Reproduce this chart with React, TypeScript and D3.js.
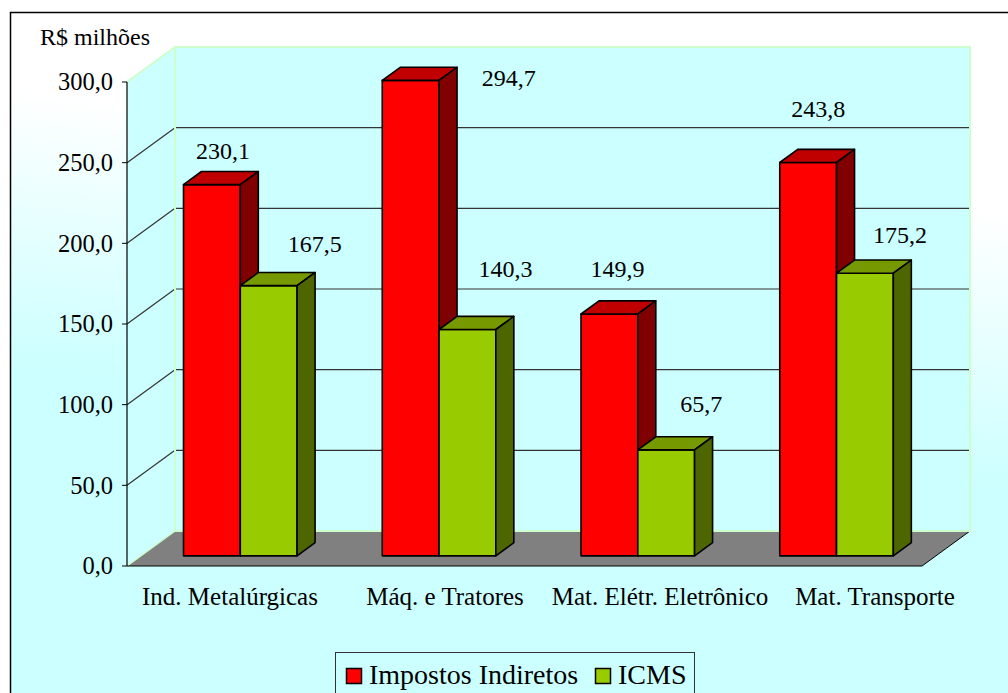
import { formatLocale, scaleBand, scaleLinear, scaleOrdinal, scalePoint } from "d3";

const categories = ["Ind. Metalúrgicas", "Máq. e Tratores", "Mat. Elétr. Eletrônico", "Mat. Transporte"];
const seriesNames = ["Impostos Indiretos", "ICMS"];
const impostosIndiretos = [230.1, 294.7, 149.9, 243.8];
const icms = [167.5, 140.3, 65.7, 175.2];
const yTicks = [0, 50, 100, 150, 200, 250, 300];
const yTitle = "R$ milhões";

// hand placed value labels in the original, offsets from the bar's top face
const labelNudge = [
  [[2, -19], [89, 12], [-1, -30], [1, -39]],
  [[37, -27], [29, -46], [26, -31], [26, -24]],
];

const WIDTH = 1008;
const HEIGHT = 693;
const FRONT_LEFT = 127;
const FRONT_RIGHT = 922;
const BASE_Y = 566;
const PLOT_H = 484;
const DEPTH_X = 48;
const DEPTH_Y = 35;
const BAR_F0 = 0.29;
const BAR_F1 = 0.665;
const FONT = '"Liberation Serif", "DejaVu Serif", "Times New Roman", Times, serif';

const faceColors = {
  "Impostos Indiretos": { front: "#ff0000", top: "#c00000", side: "#800000" },
  ICMS: { front: "#99cc00", top: "#779900", side: "#4d6600" },
};

const ptBR = formatLocale({ decimal: ",", thousands: ".", grouping: [3], currency: ["R$", ""] });
const fmt = ptBR.format(".1f");

function proj(x: number, h: number, f: number): [number, number] {
  return [x + f * DEPTH_X, BASE_Y - h - f * DEPTH_Y];
}

function pts(list: [number, number][]) {
  return list.map((p) => p.join(",")).join(" ");
}

export default function App() {
  const xBand = scaleBand<string>().domain(categories).range([FRONT_LEFT, FRONT_RIGHT]);
  const xSub = scaleBand<string>().domain(seriesNames).range([0, xBand.step()]).paddingOuter(0.75);
  const yHeight = scaleLinear().domain([0, 300]).range([0, PLOT_H]);
  const labelX = scalePoint<string>().domain(categories).range([230, 875]);
  const color = scaleOrdinal<string, string>().domain(seriesNames).range(["#ff0000", "#99cc00"]);
  const values = [impostosIndiretos, icms];
  const w = xSub.bandwidth();

  const backLeft = FRONT_LEFT + DEPTH_X;
  const backRight = FRONT_RIGHT + DEPTH_X;
  const backBase = BASE_Y - DEPTH_Y;
  const backTop = backBase - PLOT_H;

  const bars: JSX.Element[] = [];
  categories.forEach((cat, ci) => {
    seriesNames.forEach((s, si) => {
      const v = values[si][ci];
      const h = yHeight(v);
      const x0 = (xBand(cat) ?? 0) + (xSub(s) ?? 0);
      const x1 = x0 + w;
      const c = faceColors[s as keyof typeof faceColors];
      bars.push(
        <g key={`${cat}-${s}`} stroke="#000" strokeWidth={1.6} strokeLinejoin="round">
          <polygon fill={c.front} points={pts([proj(x0, 0, BAR_F0), proj(x1, 0, BAR_F0), proj(x1, h, BAR_F0), proj(x0, h, BAR_F0)])} />
          <polygon fill={c.top} points={pts([proj(x0, h, BAR_F0), proj(x1, h, BAR_F0), proj(x1, h, BAR_F1), proj(x0, h, BAR_F1)])} />
          <polygon fill={c.side} points={pts([proj(x1, 0, BAR_F0), proj(x1, 0, BAR_F1), proj(x1, h, BAR_F1), proj(x1, h, BAR_F0)])} />
        </g>
      );
    });
  });

  const labels: JSX.Element[] = [];
  categories.forEach((cat, ci) => {
    seriesNames.forEach((s, si) => {
      const v = values[si][ci];
      const x0 = (xBand(cat) ?? 0) + (xSub(s) ?? 0);
      const [ax, ay] = proj(x0 + w / 2, yHeight(v), (BAR_F0 + BAR_F1) / 2);
      const [dx, dy] = labelNudge[si][ci];
      labels.push(
        <text key={`lbl-${cat}-${s}`} x={ax + dx} y={ay + dy} textAnchor="middle" fontSize={24}>
          {fmt(v)}
        </text>
      );
    });
  });

  return (
    <svg
      width={WIDTH}
      height={HEIGHT}
      style={{ position: "absolute", left: 0, top: 0, fontFamily: FONT }}
      fill="#000"
    >
      <defs>
        <linearGradient id="bg" gradientUnits="userSpaceOnUse" x1={500} y1={150} x2={466} y2={420}>
          <stop offset="0" stopColor="#ffffff" />
          <stop offset="1" stopColor="#ccffff" />
        </linearGradient>
      </defs>
      <rect x={10.5} y={12.5} width={1100} height={800} fill="url(#bg)" stroke="#000" strokeWidth={1.5} />

      {/* walls */}
      <rect x={backLeft} y={backTop} width={backRight - backLeft} height={PLOT_H} fill="#ccffff" />
      <polygon
        fill="#ccffff"
        points={pts([[FRONT_LEFT, BASE_Y - PLOT_H], [backLeft, backTop], [backLeft, backBase], [FRONT_LEFT, BASE_Y]])}
      />
      <polygon
        fill="#808080"
        points={pts([[FRONT_LEFT, BASE_Y], [backLeft, backBase], [backRight, backBase], [FRONT_RIGHT, BASE_Y]])}
      />
      <line x1={FRONT_RIGHT} y1={BASE_Y} x2={backRight} y2={backBase} stroke="#000" strokeWidth={1} />

      {yTicks
        .filter((t) => t > 0 && t < 300)
        .map((t) => (
          <g key={`grid-${t}`} stroke="#333" strokeWidth={1.2}>
            <line x1={backLeft} x2={backRight} y1={backBase - yHeight(t)} y2={backBase - yHeight(t)} />
            <line x1={FRONT_LEFT} y1={BASE_Y - yHeight(t)} x2={backLeft} y2={backBase - yHeight(t)} />
          </g>
        ))}

      <rect
        x={backLeft}
        y={backTop}
        width={backRight - backLeft}
        height={PLOT_H}
        fill="none"
        stroke="#ccffcc"
        strokeWidth={2}
      />
      <line x1={FRONT_LEFT} y1={BASE_Y - PLOT_H} x2={backLeft} y2={backTop} stroke="#ccffcc" strokeWidth={2} />
      <line x1={FRONT_LEFT} y1={BASE_Y} x2={backLeft} y2={backBase} stroke="#ccffcc" strokeWidth={1.5} />

      {/* y axis */}
      <line x1={FRONT_LEFT} x2={FRONT_LEFT} y1={BASE_Y - PLOT_H} y2={BASE_Y} stroke="#000" strokeWidth={1.2} />
      <line x1={FRONT_LEFT} x2={FRONT_RIGHT} y1={BASE_Y} y2={BASE_Y} stroke="#000" strokeWidth={1.2} />
      {yTicks.map((t) => (
        <g key={`tick-${t}`}>
          <line x1={FRONT_LEFT - 5} x2={FRONT_LEFT} y1={BASE_Y - yHeight(t)} y2={BASE_Y - yHeight(t)} stroke="#000" />
          <text x={113} y={BASE_Y - yHeight(t)} dy="0.34em" textAnchor="end" fontSize={24.5}>
            {fmt(t)}
          </text>
        </g>
      ))}
      <text x={40} y={45} fontSize={24}>
        {yTitle}
      </text>

      {bars}
      {labels}

      {categories.map((cat) => (
        <text key={`cat-${cat}`} x={labelX(cat)} y={605} textAnchor="middle" fontSize={25}>
          {cat}
        </text>
      ))}

      {/* legend */}
      <rect x={335.5} y={652.5} width={359} height={60} fill="#ccffff" stroke="#333" strokeWidth={1} />
      {seriesNames.map((s, i) => {
        const lx = i === 0 ? 346 : 595;
        return (
          <g key={`leg-${s}`}>
            <rect x={lx + 0.5} y={668.5} width={15} height={15} fill={color(s)} stroke="#000" strokeWidth={1.5} />
            <text x={lx + 23} y={684} fontSize={28}>
              {s}
            </text>
          </g>
        );
      })}
    </svg>
  );
}
